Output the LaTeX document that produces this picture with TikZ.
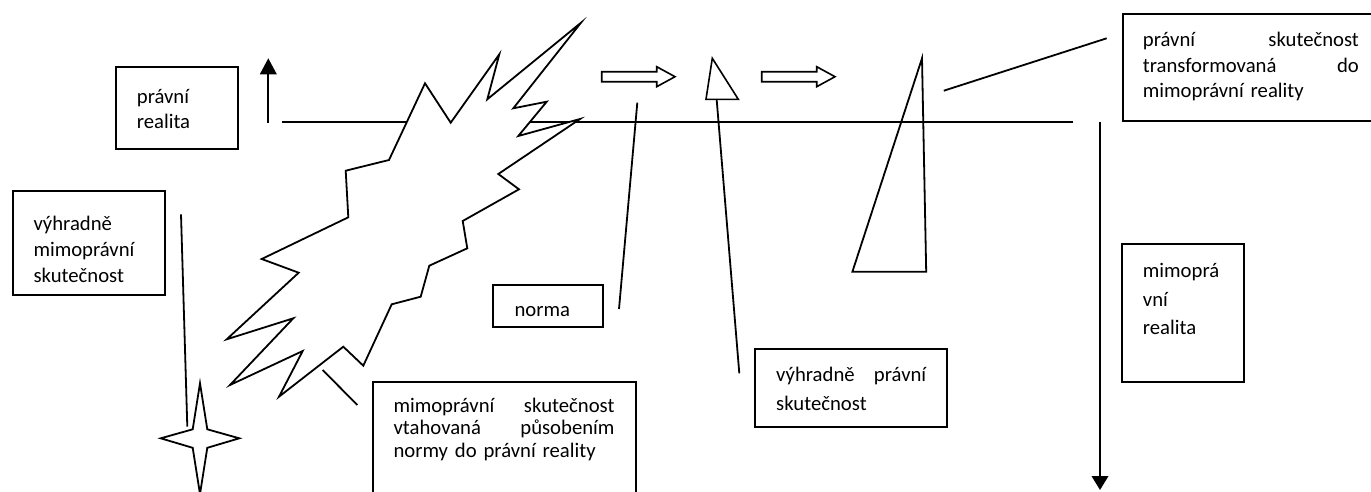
\documentclass[tikz,border=0pt]{standalone}
\usepackage{fontspec}
\setmainfont{Carlito}
\usetikzlibrary{arrows.meta,fit}
\begin{document}
\begin{tikzpicture}[x=1pt,y=-1pt,
  ink/.style={draw=black,line width=1.8pt},
  outline/.style={ink,fill=white,line join=miter},
  framebox/.style={ink,inner sep=0pt,fit={#1}},
  boxtext/.style={inner sep=0pt,anchor=base west,align=left,
                  font=\fontsize{20.7}{#1}\selectfont},
  blockarrow/.style={draw=black,line width=1.6pt,fill=white,line join=miter},
  upright/.style={line width=2.2pt,-{Triangle[length=16pt,width=16.5pt]}},
]
\useasboundingbox (0,0) rectangle (1371,491);

% frames of the text boxes
\node[framebox={(116,67.3) (238.3,149.3)}]    (fRealita) {};
\node[framebox={(13.3,190.7) (165,295)}]      (fVyhrMimo) {};
\node[framebox={(492.7,285) (603.3,326.7)}]   (fNorma) {};
\node[framebox={(373.3,381.7) (635.7,505)}]   (fVtah) {};
\node[framebox={(755,349) (947.3,427.3)}]     (fVyhrPr) {};
\node[framebox={(1122.7,14) (1385,120.7)}]    (fTransf) {};
\node[framebox={(1122.3,244) (1244.3,382.3)}] (fMimo) {};

% texts of the boxes
\node[boxtext=25,text width=95pt]   (tRealita) at (136.7,103.3) {právní\\realita};
\node[boxtext=26,text width=120pt]  (tVyhrMimo) at (33.3,230) {výhradně\\mimoprávní\\skutečnost};
\node[boxtext=25]                   (tNorma) at (514.3,316) {norma};
\node[boxtext=22.6,text width=221pt] (tVtah) at (393.3,412.3)
  {mimoprávní\hfill skutečnost\\vtahovaná\hfill působením\\normy do právní reality};
\node[boxtext=29,text width=150pt]  (tVyhrPr) at (776,381.7) {výhradně\hfill právní\\skutečnost};
\node[boxtext=25.5,text width=216pt] (tTransf) at (1142.7,46.7)
  {právní\hfill skutečnost\\transformovaná\hfill do\\mimoprávní reality};
\node[boxtext=28.3,text width=95pt] (tMimo) at (1142.7,277.7) {mimoprá\\vní\\realita};

% the boundary line between legal and non-legal reality
\coordinate (axisL) at (281.7,122);
\coordinate (axisR) at (1073.3,122);
\draw[ink] (axisL) -- (axisR);

% direction arrows
\coordinate (upFoot) at (268.3,122.7);
\coordinate (upTip)  at (268.3,58.3);
\draw[upright] (upFoot) -- (upTip);
\coordinate (downTop) at (1100,121.7);
\coordinate (downTip) at (1100,490);
\draw[line width=2.2pt,-{Triangle[length=14pt,width=16.5pt]}] (downTop) -- (downTip);

% the burst crossing the boundary
\draw[outline] (581,22.7) -- (513.3,108.3) -- (546.7,101.7) -- (518.3,136) --
  (580,119) -- (498.3,174) -- (519,189.3) -- (462.7,221) -- (467.3,248.3) --
  (429.3,265.7) -- (420.7,296.7) -- (391.7,304.3) -- (363.3,365.7) --
  (343.3,346.7) -- (279,396.7) -- (302.7,351) -- (230,385) -- (293.3,318.3) --
  (226.7,339.3) -- (298.7,272.7) -- (261.7,259) -- (348.3,217.3) --
  (345.7,170.7) -- (389,160) -- (425,83.3) -- (450.7,122.7) -- (499.3,54.3) --
  (487.3,99.3) -- cycle;

% four-pointed star
\draw[outline] (200,383.3) -- (207.3,429.3) -- (239.3,438.3) -- (207.3,447.8) --
  (200,494) -- (192.7,447.8) -- (160.7,438.3) -- (192.7,429.3) -- cycle;

% block arrows
\draw[blockarrow] (601.7,71.7) -- (656.7,71.7) -- (656.7,66.7) -- (675,76.7) --
  (656.7,86.7) -- (656.7,81.7) -- (601.7,81.7) -- cycle;
\draw[blockarrow] (761.7,71.7) -- (816.7,71.7) -- (816.7,66.7) -- (835,76.7) --
  (816.7,86.7) -- (816.7,81.7) -- (761.7,81.7) -- cycle;

% small triangle above the boundary
\draw[outline,line width=1.6pt] (712.3,58.3) -- (738.3,99.3) -- (706,99.3) -- cycle;

% tall triangle crossing the boundary
\draw[ink,line join=miter] (922,58.3) -- (926.2,271.7) -- (852.4,271.7) -- cycle;

% callout lines
\coordinate (c1a) at (181,214.3);   \coordinate (c1b) at (187.3,426.7);
\coordinate (c2a) at (322.7,370);   \coordinate (c2b) at (357.3,405);
\coordinate (c3a) at (637.3,102.7); \coordinate (c3b) at (619,309);
\coordinate (c4a) at (716.7,100);   \coordinate (c4b) at (739.3,373.3);
\coordinate (c5a) at (1106.7,38.3); \coordinate (c5b) at (943.8,90.7);
\draw[ink] (c1a) -- (c1b);
\draw[ink] (c2a) -- (c2b);
\draw[ink] (c3a) -- (c3b);
\draw[ink] (c4a) -- (c4b);
\draw[ink] (c5a) -- (c5b);
\end{tikzpicture}
\end{document}
